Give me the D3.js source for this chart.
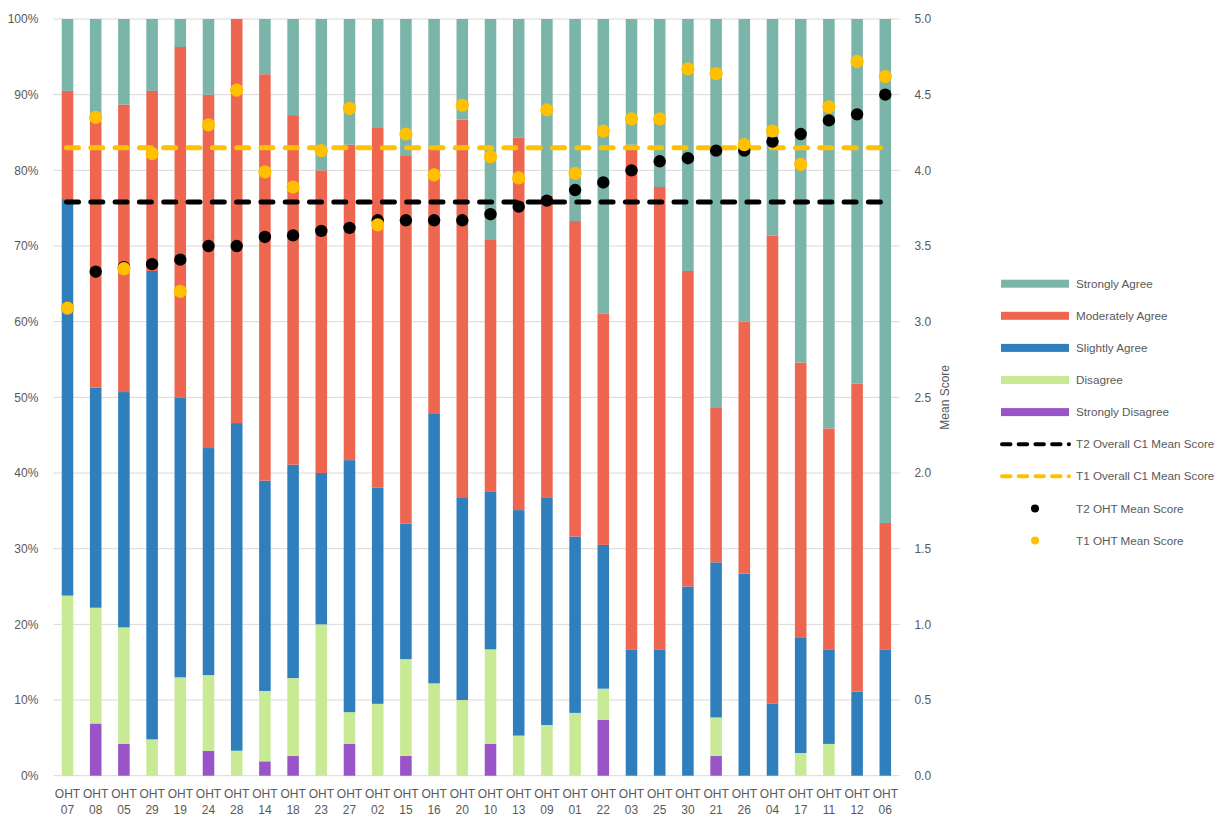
<!DOCTYPE html>
<html>
<head>
  <meta charset="utf-8">
  <script type="text/javascript" src="https://cdn.jsdelivr.net/npm/d3@7/dist/d3.min.js"></script>
  <title>OHT C1 scores</title>
  <style>
    body { margin: 0; background: #fff; }
    text { font-family: "Liberation Sans", Arial, sans-serif; fill: #595959; }
  </style>
</head>
<body>

<svg id="chart" width="1220" height="817"></svg>

<script>
  // categories, sorted by T2 mean
  var categories = ["OHT 07", "OHT 08", "OHT 05", "OHT 29", "OHT 19", "OHT 24", "OHT 28", "OHT 14", "OHT 18", "OHT 23",
                    "OHT 27", "OHT 02", "OHT 15", "OHT 16", "OHT 20", "OHT 10", "OHT 13", "OHT 09", "OHT 01", "OHT 22",
                    "OHT 03", "OHT 25", "OHT 30", "OHT 21", "OHT 26", "OHT 04", "OHT 17", "OHT 11", "OHT 12", "OHT 06"];

  // percent of responses (T2)
  var stronglyDisagree = [0, 6.9, 4.2, 0, 0, 3.3, 0, 1.9, 2.6, 0,
                          4.2, 0, 2.6, 0, 0, 4.2, 0, 0, 0, 7.4,
                          0, 0, 0, 2.6, 0, 0, 0, 0, 0, 0];
  var disagree         = [23.8, 15.3, 15.4, 4.8, 13.0, 10.0, 3.3, 9.3, 10.3, 20.0,
                          4.2, 9.5, 12.8, 12.2, 10.0, 12.5, 5.3, 6.7, 8.3, 4.1,
                          0, 0, 0, 5.1, 0, 0, 3.0, 4.2, 0, 0];
  var slightlyAgree    = [52.4, 29.1, 31.1, 61.9, 37.0, 30.0, 43.3, 27.8, 28.2, 20.0,
                          33.3, 28.6, 17.9, 35.6, 26.7, 20.8, 29.8, 30.0, 23.3, 19.0,
                          16.7, 16.7, 25.0, 20.5, 26.7, 9.5, 15.2, 12.5, 11.1, 16.7];
  var moderatelyAgree  = [14.3, 35.2, 38.0, 23.8, 46.3, 46.7, 53.4, 53.7, 46.2, 40.0,
                          41.7, 47.6, 48.7, 35.1, 50.0, 33.3, 49.2, 40.0, 41.7, 30.6,
                          66.7, 61.1, 41.7, 20.5, 33.3, 61.9, 36.4, 29.2, 40.7, 16.7];
  var stronglyAgree    = [9.5, 13.5, 11.3, 9.5, 3.7, 10.0, 0, 7.3, 12.7, 20.0,
                          16.6, 14.3, 18.0, 17.1, 13.3, 29.2, 15.7, 23.3, 26.7, 38.9,
                          16.6, 22.2, 33.3, 51.3, 40.0, 28.6, 45.4, 54.1, 48.2, 66.6];

  // mean scores (right axis)
  var t2Mean = [3.09, 3.33, 3.36, 3.38, 3.41, 3.50, 3.50, 3.56, 3.57, 3.60,
                3.62, 3.67, 3.67, 3.67, 3.67, 3.71, 3.76, 3.80, 3.87, 3.92,
                4.00, 4.06, 4.08, 4.13, 4.13, 4.19, 4.24, 4.33, 4.37, 4.50];
  var t1Mean = [3.09, 4.35, 3.35, 4.11, 3.20, 4.30, 4.53, 3.99, 3.89, 4.13,
                4.41, 3.64, 4.24, 3.97, 4.43, 4.09, 3.95, 4.40, 3.98, 4.26,
                4.34, 4.34, 4.67, 4.64, 4.17, 4.26, 4.04, 4.42, 4.72, 4.62];
  var t2Overall = 3.79;
  var t1Overall = 4.15;

  var pctTicks = [0, 10, 20, 30, 40, 50, 60, 70, 80, 90, 100];
  var meanTicks = [0, 0.5, 1, 1.5, 2, 2.5, 3, 3.5, 4, 4.5, 5];

  var seriesNames = ["Strongly Disagree", "Disagree", "Slightly Agree", "Moderately Agree", "Strongly Agree"];
  var seriesColors = ["#9955c8", "#c8ea95", "#2e7fbb", "#ee6650", "#7bb4a8"];
  var seriesValues = [stronglyDisagree, disagree, slightlyAgree, moderatelyAgree, stronglyAgree];

  var plotLeft = 53.4, plotRight = 899.4, plotTop = 19, plotBottom = 775.7;

  var svg = d3.select("#chart");

  var x = d3.scaleBand()
      .domain(categories)
      .range([plotLeft, plotRight])
      .paddingInner(0.59)
      .paddingOuter(0.295);
  var yPct = d3.scaleLinear().domain([0, 100]).range([plotBottom, plotTop]);
  var yMean = d3.scaleLinear().domain([0, 5]).range([plotBottom, plotTop]);

  // gridlines
  svg.append("g")
      .selectAll("line")
      .data(pctTicks)
      .join("line")
      .attr("x1", plotLeft)
      .attr("x2", plotRight)
      .attr("y1", function(d) { return yPct(d); })
      .attr("y2", function(d) { return yPct(d); })
      .attr("stroke", "#d9d9d9")
      .attr("stroke-width", 1);

  // stacked bars
  var rows = categories.map(function(c, i) {
    var r = { cat: c };
    seriesNames.forEach(function(s, k) { r[s] = seriesValues[k][i]; });
    return r;
  });
  var stack = d3.stack().keys(seriesNames)(rows);

  svg.append("g")
      .selectAll("g")
      .data(stack)
      .join("g")
      .attr("fill", function(d, k) { return seriesColors[k]; })
      .selectAll("rect")
      .data(function(d) { return d; })
      .join("rect")
      .attr("x", function(d) { return x(d.data.cat); })
      .attr("width", x.bandwidth())
      .attr("y", function(d) { return yPct(Math.min(100, d[1])); })
      .attr("height", function(d) { return Math.max(0, yPct(d[0]) - yPct(Math.min(100, d[1]))); });

  var first = x(categories[0]) + x.bandwidth() / 2;
  var last = x(categories[categories.length - 1]) + x.bandwidth() / 2;

  // overall mean lines
  function overallLine(value, color) {
    svg.append("line")
        .attr("x1", first - 1)
        .attr("x2", last + 1)
        .attr("y1", yMean(value))
        .attr("y2", yMean(value))
        .attr("stroke", color)
        .attr("stroke-width", 5)
        .attr("stroke-linecap", "round")
        .attr("stroke-dasharray", "12 12.3");
  }
  overallLine(t2Overall, "#000000");
  overallLine(t1Overall, "#ffc000");

  // OHT mean dots
  function dots(values, color, r) {
    svg.append("g")
        .selectAll("circle")
        .data(values)
        .join("circle")
        .attr("cx", function(d, i) { return x(categories[i]) + x.bandwidth() / 2; })
        .attr("cy", function(d) { return yMean(d); })
        .attr("r", r)
        .attr("fill", color);
  }
  dots(t2Mean, "#000000", 6.2);
  dots(t1Mean, "#ffc000", 6.6);

  // left axis
  var leftAxis = svg.append("g")
      .attr("transform", "translate(" + (plotLeft - 12) + ",0)")
      .call(d3.axisLeft(yPct).tickValues(pctTicks).tickFormat(function(d) { return d + "%"; }).tickSize(0));
  leftAxis.select(".domain").remove();
  leftAxis.selectAll("text").attr("font-size", 12).attr("fill", "#595959").attr("font-family", null);

  // right axis
  var rightAxis = svg.append("g")
      .attr("transform", "translate(" + (plotRight + 12) + ",0)")
      .call(d3.axisRight(yMean).tickValues(meanTicks).tickFormat(d3.format(".1f")).tickSize(0));
  rightAxis.select(".domain").remove();
  rightAxis.selectAll("text").attr("font-size", 12).attr("fill", "#595959").attr("font-family", null);

  svg.append("text")
      .attr("transform", "translate(949," + ((plotTop + plotBottom) / 2) + ") rotate(-90)")
      .attr("text-anchor", "middle")
      .attr("font-size", 12)
      .text("Mean Score");

  // bottom labels, two lines each
  var xLabels = svg.append("g")
      .selectAll("text")
      .data(categories)
      .join("text")
      .attr("text-anchor", "middle")
      .attr("font-size", 12)
      .attr("x", function(d) { return x(d) + x.bandwidth() / 2; });
  xLabels.append("tspan")
      .attr("x", function(d) { return x(d) + x.bandwidth() / 2; })
      .attr("y", 798)
      .text(function(d) { return d.split(" ")[0]; });
  xLabels.append("tspan")
      .attr("x", function(d) { return x(d) + x.bandwidth() / 2; })
      .attr("y", 814)
      .text(function(d) { return d.split(" ")[1]; });

  // legend
  var legendX = 1001, legendY = 283.7, legendStep = 32.1, textX = 1076;
  var legendItems = [
    { name: "Strongly Agree", type: "bar", color: seriesColors[4] },
    { name: "Moderately Agree", type: "bar", color: seriesColors[3] },
    { name: "Slightly Agree", type: "bar", color: seriesColors[2] },
    { name: "Disagree", type: "bar", color: seriesColors[1] },
    { name: "Strongly Disagree", type: "bar", color: seriesColors[0] },
    { name: "T2 Overall C1 Mean Score", type: "line", color: "#000000" },
    { name: "T1 Overall C1 Mean Score", type: "line", color: "#ffc000" },
    { name: "T2 OHT Mean Score", type: "dot", color: "#000000" },
    { name: "T1 OHT Mean Score", type: "dot", color: "#ffc000" }
  ];
  var legend = svg.append("g")
      .selectAll("g")
      .data(legendItems)
      .join("g")
      .attr("transform", function(d, i) { return "translate(0," + (legendY + i * legendStep) + ")"; });

  legend.filter(function(d) { return d.type === "bar"; })
      .append("rect")
      .attr("x", legendX)
      .attr("y", -4)
      .attr("width", 68)
      .attr("height", 8)
      .attr("fill", function(d) { return d.color; });

  legend.filter(function(d) { return d.type === "line"; })
      .append("line")
      .attr("x1", legendX + 1)
      .attr("x2", legendX + 68)
      .attr("stroke", function(d) { return d.color; })
      .attr("stroke-width", 4)
      .attr("stroke-linecap", "round")
      .attr("stroke-dasharray", "8.5 8.2");

  legend.filter(function(d) { return d.type === "dot"; })
      .append("circle")
      .attr("cx", legendX + 34)
      .attr("r", 4)
      .attr("fill", function(d) { return d.color; });

  legend.append("text")
      .attr("x", textX)
      .attr("dy", "0.35em")
      .attr("font-size", 11.7)
      .text(function(d) { return d.name; });
</script>

</body>
</html>
